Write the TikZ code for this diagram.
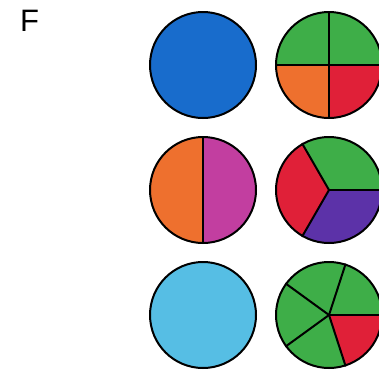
\documentclass[tikz,border=0pt]{standalone}
\usepackage{fontspec}
\setmainfont{Liberation Sans}
\usepackage{xcolor}
\usepackage{tikz}

\definecolor{pieBlue}{RGB}{24,108,204}
\definecolor{pieGreen}{RGB}{62,174,72}
\definecolor{pieOrange}{RGB}{238,112,46}
\definecolor{pieRed}{RGB}{224,32,56}
\definecolor{pieMagenta}{RGB}{194,62,160}
\definecolor{piePurple}{RGB}{92,50,168}
\definecolor{pieSky}{RGB}{86,190,228}

\begin{document}
\begin{tikzpicture}[x=1pt,y=1pt,line width=2pt,
  disc/.style={circle,draw,inner sep=0pt,minimum size=106pt}]
  \useasboundingbox (0,-370) rectangle (379,0);
  \node[anchor=north west,inner sep=0pt,font=\fontsize{31}{31}\selectfont] (lbl) at (19,-9) {F};
  % left column: whole discs
  \node[disc,fill=pieBlue] (a1) at (203,-65) {};
  \node[disc,fill=pieSky] (a3) at (203,-315) {};
  \coordinate (a2c) at (203,-190);
  \fill[pieOrange] (a2c) -- ++(90:53) arc[start angle=90,end angle=270,radius=53] -- cycle;
  \fill[pieMagenta] (a2c) -- ++(-90:53) arc[start angle=-90,end angle=90,radius=53] -- cycle;
  \node[disc] (a2) at (a2c) {};
  \draw (a2.90) -- (a2.270);
  % right column: cut discs
  \coordinate (b1c) at (329,-65);
  \fill[pieGreen] (b1c) -- ++(0:53) arc[start angle=0,end angle=180,radius=53] -- cycle;
  \fill[pieOrange] (b1c) -- ++(180:53) arc[start angle=180,end angle=270,radius=53] -- cycle;
  \fill[pieRed] (b1c) -- ++(270:53) arc[start angle=270,end angle=360,radius=53] -- cycle;
  \node[disc] (b1) at (b1c) {};
  \draw (b1.90) -- (b1.270);
  \draw (b1.0) -- (b1.180);
  \coordinate (b2c) at (329,-190);
  \fill[pieGreen] (b2c) -- ++(0:53) arc[start angle=0,end angle=120,radius=53] -- cycle;
  \fill[pieRed] (b2c) -- ++(120:53) arc[start angle=120,end angle=240,radius=53] -- cycle;
  \fill[piePurple] (b2c) -- ++(240:53) arc[start angle=240,end angle=360,radius=53] -- cycle;
  \node[disc] (b2) at (b2c) {};
  \foreach \ang in {0,120,240}
    \draw (b2.center) -- (b2.\ang);
  \coordinate (b3c) at (329,-315);
  \fill[pieGreen] (b3c) circle[radius=53];
  \fill[pieRed] (b3c) -- ++(288:53) arc[start angle=288,end angle=360,radius=53] -- cycle;
  \node[disc] (b3) at (b3c) {};
  \foreach \ang in {0,72,144,216,288}
    \draw (b3.center) -- (b3.\ang);
\end{tikzpicture}
\end{document}
